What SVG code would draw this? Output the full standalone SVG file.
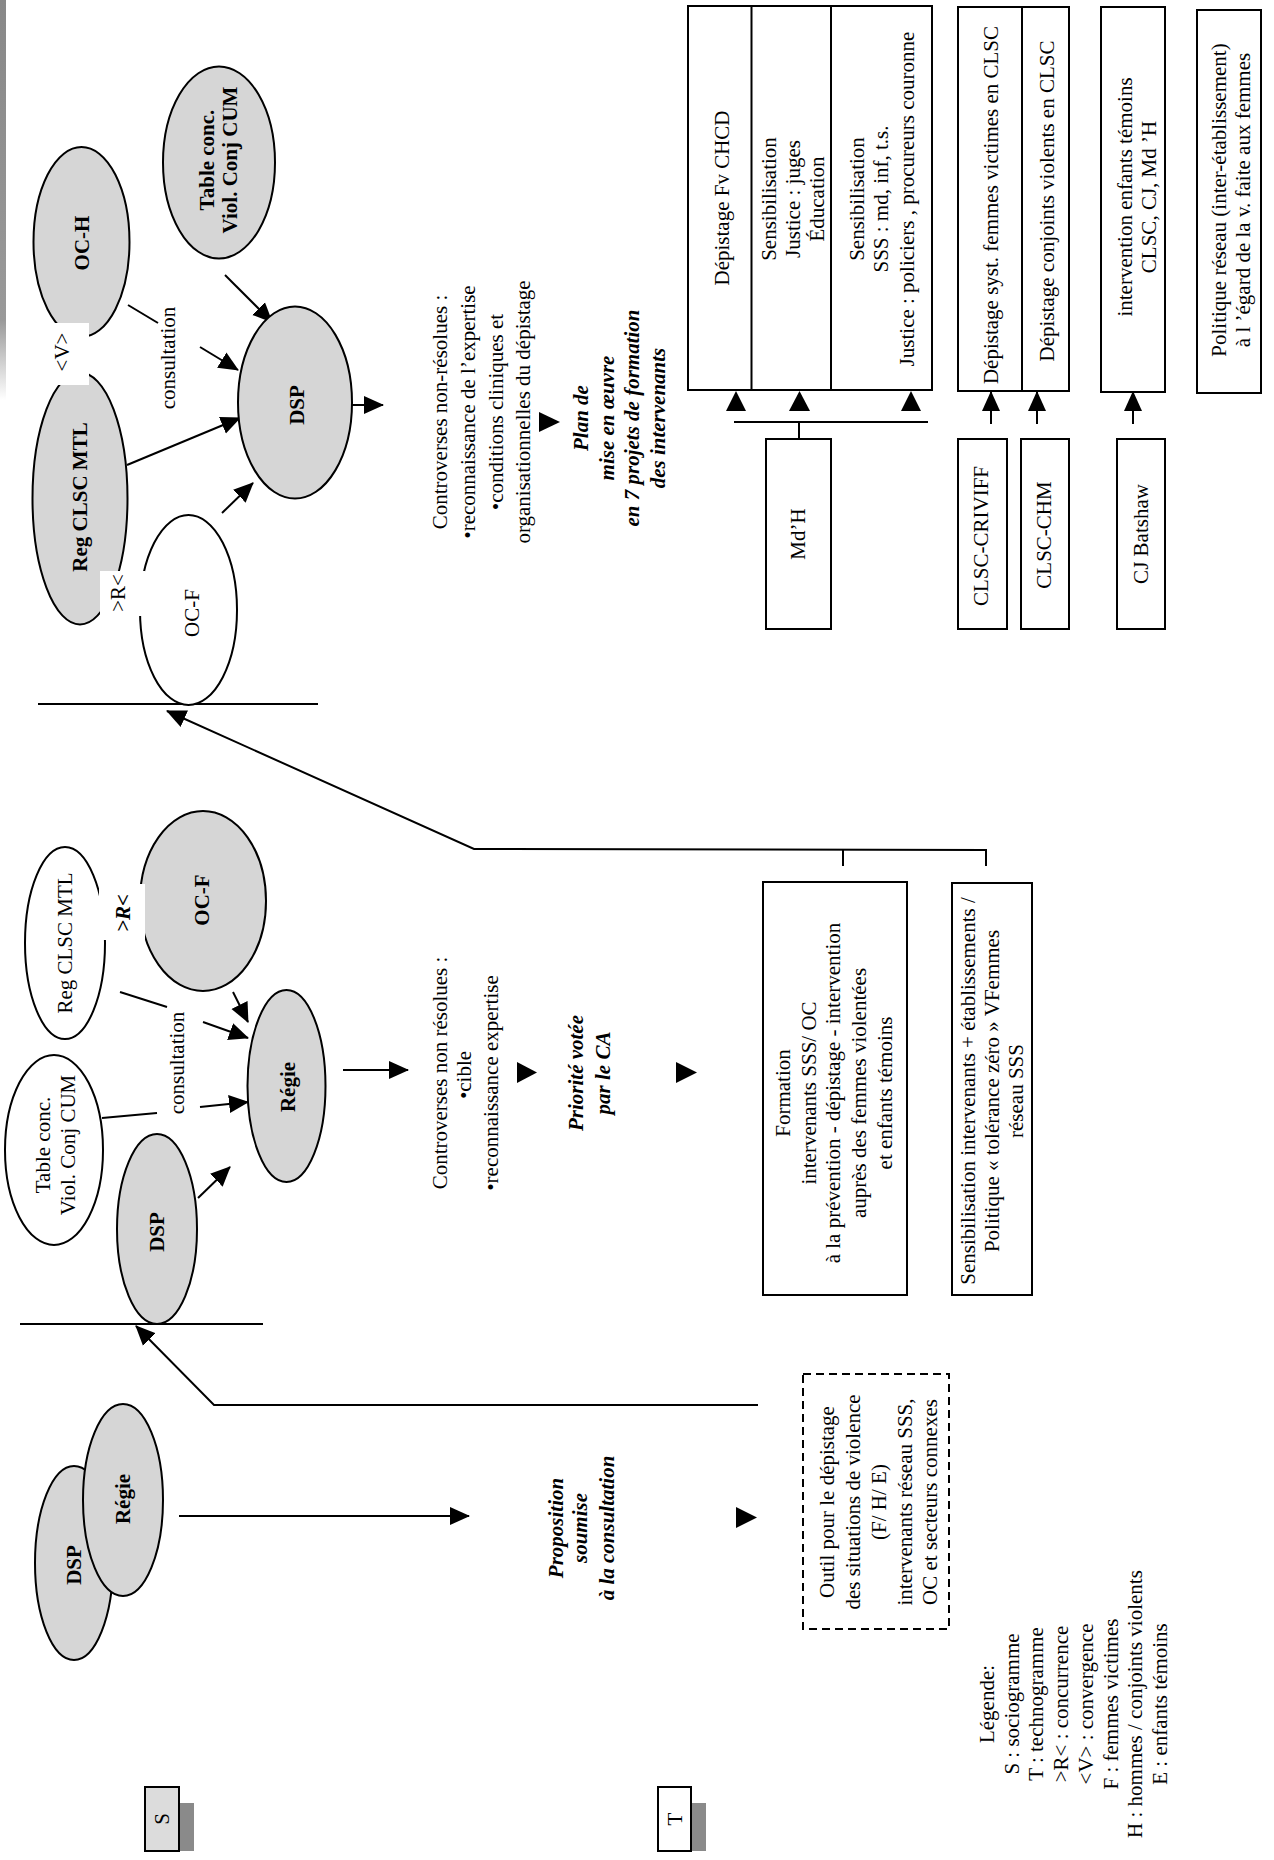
<svg xmlns="http://www.w3.org/2000/svg" width="1274" height="1860" viewBox="0 0 1274 1860">
<style>
.g{fill:#d6d6d6;stroke:#000;stroke-width:2}
.w{fill:#fff;stroke:#000;stroke-width:2}
.bx{fill:#fff;stroke:#000;stroke-width:2}
.ln{stroke:#000;stroke-width:2;fill:none}
.ar{stroke:#000;stroke-width:2;fill:none;marker-end:url(#ah)}
.tri{fill:#000}
.t{font-family:"Liberation Serif","Times New Roman",serif;font-size:21px;text-anchor:middle;fill:#000}
.b{font-weight:bold}
.bi{font-weight:bold;font-style:italic}
.cut{fill:#fff;stroke:none}
</style>
<defs>
<marker id="ah" markerUnits="userSpaceOnUse" markerWidth="20" markerHeight="20" viewBox="0 0 20 20" refX="19" refY="10" orient="auto">
<path d="M0,1 L20,10 L0,19 z" fill="#000"/>
</marker>
<linearGradient id="strip" x1="0" y1="0" x2="0" y2="1">
<stop offset="0" stop-color="#888"/><stop offset="0.8" stop-color="#999"/><stop offset="1" stop-color="#fff"/>
</linearGradient>
</defs>
<rect width="1274" height="1860" fill="#fff"/>
<rect x="0" y="0" width="6" height="400" fill="url(#strip)"/>

<!-- connectors -->
<g id="connectors">
  <!-- section 1 -->
  <line class="ar" x1="179" y1="1516" x2="469" y2="1516"/>
  <polyline class="ar" points="758,1405 214,1405 136,1326"/>
  <line class="ln" x1="20" y1="1324" x2="263" y2="1324"/>
  <!-- section 2 -->
  <line class="ln" x1="120" y1="992" x2="167" y2="1007"/>
  <line class="ar" x1="203" y1="1022" x2="248" y2="1038"/>
  <line class="ln" x1="102" y1="1118" x2="157" y2="1113"/>
  <line class="ar" x1="200" y1="1107" x2="248" y2="1102"/>
  <line class="ar" x1="233" y1="992" x2="248" y2="1022"/>
  <line class="ar" x1="198" y1="1198" x2="230" y2="1167"/>
  <line class="ar" x1="343" y1="1070" x2="408" y2="1070"/>
  <polyline class="ar" points="986,850 474,849 167,711"/>
  <line class="ln" x1="843" y1="850" x2="843" y2="866"/>
  <line class="ln" x1="986" y1="849" x2="986" y2="866"/>
  <line class="ln" x1="38" y1="704" x2="318" y2="704"/>
  <!-- section 3 -->
  <line class="ln" x1="128" y1="305" x2="158" y2="323"/>
  <line class="ar" x1="200" y1="347" x2="238" y2="370"/>
  <line class="ar" x1="225" y1="275" x2="272" y2="322"/>
  <line class="ar" x1="127" y1="465" x2="240" y2="418"/>
  <line class="ar" x1="222" y1="513" x2="253" y2="483"/>
  <line class="ar" x1="352" y1="405" x2="383" y2="405"/>
  <!-- right side -->
  <line class="ln" x1="734" y1="422" x2="928" y2="422"/>
  <line class="ln" x1="799" y1="422" x2="799" y2="439"/>
  <line class="ar" x1="991" y1="424" x2="991" y2="392"/>
  <line class="ar" x1="1037" y1="424" x2="1037" y2="392"/>
  <line class="ar" x1="1133" y1="424" x2="1133" y2="392"/>
  <!-- standalone triangles -->
  <polygon class="tri" points="736,1507 757,1517.5 736,1528"/>
  <polygon class="tri" points="517,1062 537,1072.5 517,1083"/>
  <polygon class="tri" points="676,1062 697,1072.5 676,1083"/>
  <polygon class="tri" points="539,412 560,422 539,432"/>
  <polygon class="tri" points="726,411 736,391 746,411"/>
  <polygon class="tri" points="789,411 799.5,391 810,411"/>
  <polygon class="tri" points="901,411 911,391 921,411"/>
</g>

<!-- section 1 nodes -->
<g id="s1-dsp"><ellipse class="g" cx="74" cy="1563" rx="39" ry="97"/>
<text class="t b" x="81" y="1565" transform="rotate(-90 81 1565)">DSP</text></g>
<g id="s1-regie"><ellipse class="g" cx="123" cy="1500" rx="40" ry="96"/>
<text class="t b" x="130" y="1499" transform="rotate(-90 130 1499)">Régie</text></g>
<g id="s1-proposition"><text class="t bi" x="563" y="1528" transform="rotate(-90 563 1528)"><tspan x="563" dy="0">Proposition</tspan><tspan x="563" dy="24">soumise</tspan><tspan x="563" dy="27">à la consultation</tspan></text></g>
<g id="s1-outil"><rect class="bx" x="803" y="1374" width="146" height="255" style="stroke-dasharray:8 5"/>
<text class="t" x="834" y="1502" transform="rotate(-90 834 1502)"><tspan x="834" dy="0">Outil pour le dépistage</tspan><tspan x="834" dy="26">des situations de violence</tspan><tspan x="834" dy="26">(F/ H/ E)</tspan><tspan x="834" dy="26">intervenants réseau SSS,</tspan><tspan x="834" dy="25">OC et secteurs connexes</tspan></text></g>

<!-- S / T tags -->
<g id="tag-s"><rect x="179" y="1803" width="15" height="48" fill="#8a8a8a"/><rect x="145" y="1787" width="34" height="64" fill="#dcdcdc" stroke="#000" stroke-width="2"/>
<text class="t" x="169" y="1819" transform="rotate(-90 169 1819)">S</text></g>
<g id="tag-t"><rect x="691" y="1803" width="15" height="48" fill="#8a8a8a"/><rect x="658" y="1787" width="33" height="64" fill="#fff" stroke="#000" stroke-width="2"/>
<text class="t" x="682" y="1819" transform="rotate(-90 682 1819)">T</text></g>

<!-- legend -->
<g id="legend"><text class="t" x="994" y="1704" transform="rotate(-90 994 1704)"><tspan x="994" dy="0">Légende:</tspan><tspan x="994" dy="24.7">S : sociogramme</tspan><tspan x="994" dy="24.7">T : technogramme</tspan><tspan x="994" dy="24.7">&gt;R&lt; : concurrence</tspan><tspan x="994" dy="24.7">&lt;V&gt; : convergence</tspan><tspan x="994" dy="24.7">F : femmes victimes</tspan><tspan x="994" dy="24.7">H : hommes / conjoints violents</tspan><tspan x="994" dy="24.7">E : enfants témoins</tspan></text></g>

<!-- section 2 nodes -->
<g id="s2-reg"><ellipse class="w" cx="65" cy="943" rx="40" ry="96"/>
<text class="t" x="72" y="943" transform="rotate(-90 72 943)">Reg CLSC MTL</text></g>
<g id="s2-ocf"><ellipse class="g" cx="203" cy="901" rx="63" ry="90"/>
<text class="t b" x="209" y="900" transform="rotate(-90 209 900)">OC-F</text></g>
<g id="s2-r"><rect class="cut" x="99" y="884" width="46" height="56"/>
<text class="t bi" x="130" y="913" transform="rotate(-90 130 913)">&gt;R&lt;</text></g>
<g id="s2-table"><ellipse class="w" cx="54" cy="1150" rx="49" ry="95"/>
<text class="t" x="50" y="1145" transform="rotate(-90 50 1145)"><tspan x="50" dy="0">Table conc.</tspan><tspan x="50" dy="25">Viol. Conj CUM</tspan></text></g>
<g id="s2-dsp"><ellipse class="g" cx="157" cy="1229" rx="40" ry="95"/>
<text class="t b" x="164" y="1232" transform="rotate(-90 164 1232)">DSP</text></g>
<g id="s2-regie"><ellipse class="g" cx="286.5" cy="1086" rx="39" ry="96"/>
<text class="t b" x="295" y="1087" transform="rotate(-90 295 1087)">Régie</text></g>
<g id="s2-consult"><text class="t" x="184" y="1063" transform="rotate(-90 184 1063)">consultation</text></g>
<g id="s2-controverses"><text class="t" x="447" y="1073" transform="rotate(-90 447 1073)">Controverses non résolues :</text>
<text class="t" x="471" y="1075" transform="rotate(-90 471 1075)">•cible</text>
<text class="t" x="498" y="1083" transform="rotate(-90 498 1083)">•reconnaissance expertise</text></g>
<g id="s2-priorite"><text class="t bi" x="583" y="1073" transform="rotate(-90 583 1073)"><tspan x="583" dy="0">Priorité votée</tspan><tspan x="583" dy="27">par le CA</tspan></text></g>
<g id="s2-formation"><rect class="bx" x="763" y="882" width="144" height="413"/>
<text class="t" x="790" y="1093" transform="rotate(-90 790 1093)"><tspan x="790" dy="0">Formation</tspan><tspan x="790" dy="26">intervenants SSS/ OC</tspan><tspan x="790" dy="24">à la prévention - dépistage - intervention</tspan><tspan x="790" dy="26">auprès des femmes violentées</tspan><tspan x="790" dy="26">et enfants témoins</tspan></text></g>
<g id="s2-sensib"><rect class="bx" x="952" y="883" width="80" height="412"/>
<text class="t" x="975" y="1091" transform="rotate(-90 975 1091)"><tspan x="975" dy="0">Sensibilisation intervenants + établissements /</tspan><tspan x="975" dy="24">Politique « tolérance zéro » VFemmes</tspan><tspan x="975" dy="24">réseau SSS</tspan></text></g>

<!-- section 3 nodes -->
<g id="s3-och"><ellipse class="g" cx="81.5" cy="242" rx="48" ry="95"/>
<text class="t b" x="89" y="243" transform="rotate(-90 89 243)">OC-H</text></g>
<g id="s3-reg"><ellipse class="g" cx="80" cy="498.5" rx="47.5" ry="126"/>
<text class="t b" x="87" y="497" transform="rotate(-90 87 497)">Reg CLSC MTL</text></g>
<g id="s3-v"><rect class="cut" x="47" y="323" width="42" height="62"/>
<text class="t" x="69" y="352" transform="rotate(-90 69 352)">&lt;V&gt;</text></g>
<g id="s3-ocf"><ellipse class="w" cx="188.5" cy="610" rx="48.5" ry="95"/>
<text class="t" x="199" y="613" transform="rotate(-90 199 613)">OC-F</text></g>
<g id="s3-r"><rect class="cut" x="100" y="571" width="45" height="45"/>
<text class="t" x="125" y="593" transform="rotate(-90 125 593)">&gt;R&lt;</text></g>
<g id="s3-table"><ellipse class="g" cx="219" cy="162.5" rx="56" ry="96"/>
<text class="t b" x="214" y="160" transform="rotate(-90 214 160)"><tspan x="214" dy="0">Table conc.</tspan><tspan x="214" dy="23">Viol. Conj CUM</tspan></text></g>
<g id="s3-dsp"><ellipse class="g" cx="295" cy="402.5" rx="57" ry="96"/>
<text class="t b" x="304" y="405" transform="rotate(-90 304 405)">DSP</text></g>
<g id="s3-consult"><text class="t" x="175" y="358" transform="rotate(-90 175 358)">consultation</text></g>
<g id="s3-controverses"><text class="t" x="447" y="412" transform="rotate(-90 447 412)"><tspan x="447" dy="0">Controverses non-résolues :</tspan><tspan x="447" dy="28">•reconnaissance de l’expertise</tspan><tspan x="447" dy="28">•conditions cliniques et</tspan><tspan x="447" dy="27">organisationnelles du dépistage</tspan></text></g>
<g id="s3-plan"><text class="t bi" x="588" y="418" transform="rotate(-90 588 418)"><tspan x="588" dy="0">Plan de</tspan><tspan x="588" dy="25.5">mise en œuvre</tspan><tspan x="588" dy="25.5">en 7 projets de formation</tspan><tspan x="588" dy="26">des intervenants</tspan></text></g>

<!-- right side -->
<g id="projets-mdh"><rect class="bx" x="688" y="6" width="244" height="384"/>
<line class="ln" x1="751.5" y1="6" x2="751.5" y2="390"/><line class="ln" x1="831" y1="6" x2="831" y2="390"/>
<text class="t" x="729" y="198" transform="rotate(-90 729 198)">Dépistage Fv CHCD</text>
<text class="t" x="776" y="199" transform="rotate(-90 776 199)"><tspan x="776" dy="0">Sensibilisation</tspan><tspan x="776" dy="24">Justice : juges</tspan><tspan x="776" dy="24">Éducation</tspan></text>
<text class="t" x="864" y="199" transform="rotate(-90 864 199)"><tspan x="864" dy="0">Sensibilisation</tspan><tspan x="864" dy="24">SSS : md, inf, t.s.</tspan><tspan x="864" dy="25.5">Justice : policiers , procureurs couronne</tspan></text></g>
<g id="mdh"><rect class="bx" x="766" y="439" width="65" height="190"/>
<text class="t" x="805" y="534" transform="rotate(-90 805 534)">Md’H</text></g>
<g id="projets-clsc"><rect class="bx" x="958" y="7" width="111" height="384"/>
<line class="ln" x1="1022" y1="7" x2="1022" y2="391"/>
<text class="t" x="998" y="205" transform="rotate(-90 998 205)">Dépistage syst. femmes victimes en CLSC</text>
<text class="t" x="1054" y="201" transform="rotate(-90 1054 201)">Dépistage conjoints violents en CLSC</text></g>
<g id="criviff"><rect class="bx" x="958" y="439" width="49" height="190"/>
<text class="t" x="988" y="536" transform="rotate(-90 988 536)">CLSC-CRIVIFF</text></g>
<g id="chm"><rect class="bx" x="1021" y="439" width="48" height="190"/>
<text class="t" x="1051" y="535" transform="rotate(-90 1051 535)">CLSC-CHM</text></g>
<g id="projet-enfants"><rect class="bx" x="1101" y="7" width="64" height="385"/>
<text class="t" x="1132" y="197" transform="rotate(-90 1132 197)"><tspan x="1132" dy="0">intervention enfants témoins</tspan><tspan x="1132" dy="24">CLSC, CJ, Md ’H</tspan></text></g>
<g id="batshaw"><rect class="bx" x="1117" y="439" width="48" height="190"/>
<text class="t" x="1148" y="534" transform="rotate(-90 1148 534)">CJ Batshaw</text></g>
<g id="politique"><rect class="bx" x="1197" y="10" width="64" height="383"/>
<text class="t" x="1226" y="200" transform="rotate(-90 1226 200)"><tspan x="1226" dy="0">Politique réseau (inter-établissement)</tspan><tspan x="1226" dy="24">à l ’égard de la v. faite aux femmes</tspan></text></g>
</svg>
